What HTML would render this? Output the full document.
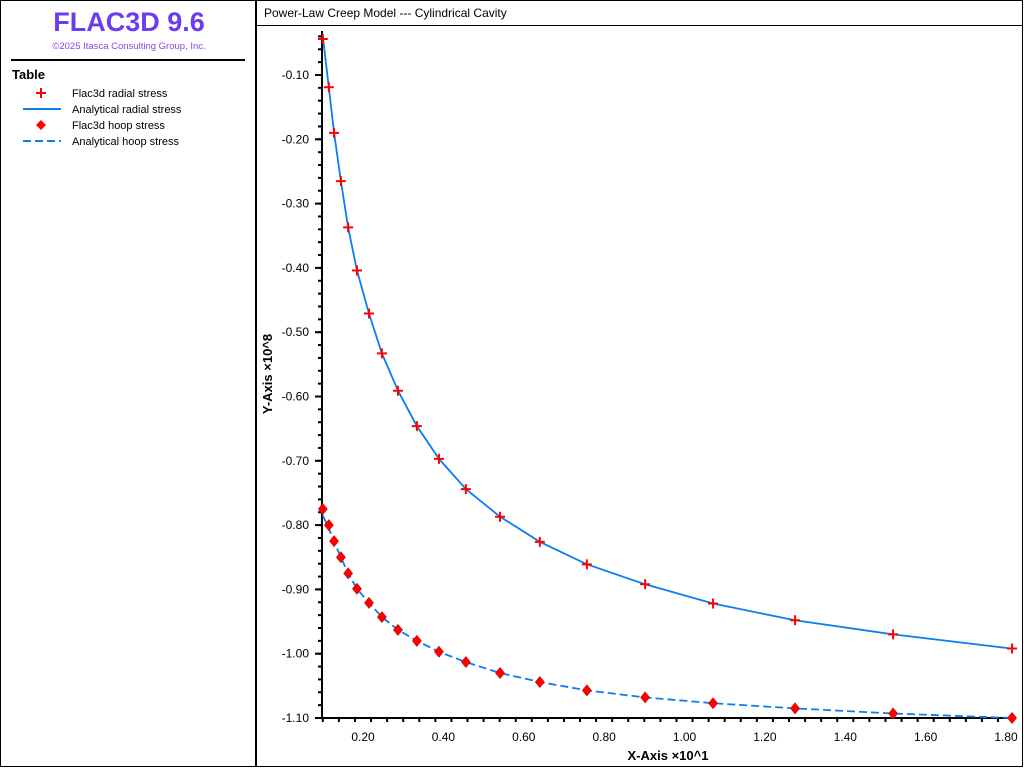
<!DOCTYPE html>
<html><head><meta charset="utf-8"><style>
body{margin:0;width:1024px;height:768px;background:#fff;overflow:hidden;font-family:"Liberation Sans",sans-serif;}
svg text{font-family:"Liberation Sans",sans-serif;}
</style></head><body>
<svg id="chart" width="1024" height="768" xmlns="http://www.w3.org/2000/svg">
<rect x="0.5" y="0.5" width="255" height="766" fill="#fff" stroke="#000"/>
<rect x="256.5" y="0.5" width="766" height="766" fill="#fff" stroke="#000"/>
<line x1="257" y1="25.5" x2="1022" y2="25.5" stroke="#000"/>
<text x="129" y="31" text-anchor="middle" font-size="27" font-weight="bold" fill="#6e3cf0">FLAC3D 9.6</text>
<text x="129" y="49" text-anchor="middle" font-size="9.5" fill="#8a44e8">©2025 Itasca Consulting Group, Inc.</text>
<line x1="11" y1="60" x2="245" y2="60" stroke="#000" stroke-width="2"/>
<text x="12" y="79" font-size="13" font-weight="bold">Table</text>
<g>
<path d="M36 93h10M41 88v10" stroke="#f00" stroke-width="2"/>
<text x="72" y="97" font-size="11">Flac3d radial stress</text></g>
<g>
<line x1="23" y1="109" x2="61" y2="109" stroke="#0a7ef0" stroke-width="2"/>
<text x="72" y="113" font-size="11">Analytical radial stress</text></g>
<g>
<path d="M41 120l5 5-5 5-5-5z" fill="#f00"/>
<text x="72" y="129" font-size="11">Flac3d hoop stress</text></g>
<g>
<line x1="23" y1="141" x2="61" y2="141" stroke="#0a7ef0" stroke-width="2" stroke-dasharray="8,4"/>
<text x="72" y="145" font-size="11">Analytical hoop stress</text></g>
<text x="264" y="17" font-size="12">Power-Law Creep Model --- Cylindrical Cavity</text>
<g id="plot"></g>
</svg>
<script>
const radialX=[0.100,0.115,0.128,0.145,0.163,0.185,0.215,0.247,0.287,0.334,0.389,0.456,0.541,0.640,0.757,0.902,1.071,1.275,1.519,1.815];
const radialY=[-0.044,-0.119,-0.190,-0.265,-0.337,-0.404,-0.471,-0.533,-0.591,-0.646,-0.697,-0.744,-0.787,-0.826,-0.861,-0.892,-0.922,-0.948,-0.970,-0.992];
const hoopX=[0.100,0.115,0.128,0.145,0.163,0.185,0.215,0.247,0.287,0.334,0.389,0.456,0.541,0.640,0.757,0.902,1.071,1.275,1.519,1.815];
const hoopY=[-0.775,-0.800,-0.825,-0.850,-0.875,-0.899,-0.921,-0.943,-0.963,-0.980,-0.997,-1.013,-1.030,-1.044,-1.057,-1.068,-1.077,-1.085,-1.093,-1.100];
const anaRadialY=[-0.040,-0.119,-0.190,-0.265,-0.337,-0.404,-0.471,-0.533,-0.591,-0.646,-0.697,-0.744,-0.787,-0.826,-0.861,-0.892,-0.922,-0.948,-0.970,-0.992];
const anaHoopY=[-0.785,-0.805,-0.826,-0.850,-0.875,-0.899,-0.921,-0.943,-0.963,-0.980,-0.997,-1.013,-1.030,-1.044,-1.057,-1.068,-1.077,-1.085,-1.093,-1.100];
const xTicks=[0.2,0.4,0.6,0.8,1.0,1.2,1.4,1.6,1.8];
const yTicks=[-0.1,-0.2,-0.3,-0.4,-0.5,-0.6,-0.7,-0.8,-0.9,-1.0,-1.1];

const NS='http://www.w3.org/2000/svg';
const g=document.getElementById('plot');
const X=v=>363+(v-0.2)*401.9;
const Y=v=>75+(-0.1-v)*643;
const L=322,B=718,R=1016,T=31;
function mk(t,a){const e=document.createElementNS(NS,t);for(const k in a)e.setAttribute(k,a[k]);g.appendChild(e);return e;}
let e=mk('line',{x1:L,y1:T,x2:L,y2:B+1,stroke:'#000','stroke-width':2});


e=mk('line',{x1:L-1,y1:B,x2:R,y2:B,stroke:'#000','stroke-width':2});


for(let v=0.1;v<=1.82;v+=0.04){const p=X(v);if(p<L)continue;const maj=Math.abs(Math.round(v*5)-v*5)<0.01;mk('line',{x1:p,y1:B,x2:p,y2:B+(maj?6:4),stroke:'#000','stroke-width':2});}
for(let v=-0.04;v>=-1.101;v-=0.02){const p=Y(v);mk('line',{x1:L,y1:p,x2:L-4,y2:p,stroke:'#000','stroke-width':2});}
xTicks.forEach(v=>{const t=mk('text',{x:X(v),y:B+23,'text-anchor':'middle','font-size':12});t.textContent=v.toFixed(2);

});
yTicks.forEach(v=>{mk('line',{x1:L,y1:Y(v),x2:L-7,y2:Y(v),stroke:'#000','stroke-width':2});const t=mk('text',{x:309,y:Y(v)+4,'text-anchor':'end','font-size':12});t.textContent=v.toFixed(2);

});
let t=mk('text',{x:668,y:760,'text-anchor':'middle','font-size':13,'font-weight':'bold'});t.textContent='X-Axis ×10^1';


t=mk('text',{x:0,y:0,'text-anchor':'middle','font-size':13,'font-weight':'bold',transform:'translate(272,374) rotate(-90)'});t.textContent='Y-Axis ×10^8';


function pts(xs,ys){return xs.map((x,i)=>X(x).toFixed(1)+','+Y(ys[i]).toFixed(1)).join(' ');}
e=mk('polyline',{points:pts(radialX,anaRadialY),fill:'none',stroke:'#0a7ef0','stroke-width':1.8});


e=mk('polyline',{points:pts(hoopX,anaHoopY),fill:'none',stroke:'#0a7ef0','stroke-width':1.8,'stroke-dasharray':'8,4'});


radialX.forEach((x,i)=>{const px=X(x),py=Y(radialY[i]);const m=mk('path',{d:`M${px-5} ${py}h10M${px} ${py-5}v10`,stroke:'#f00','stroke-width':2});

});
hoopX.forEach((x,i)=>{const px=X(x),py=Y(hoopY[i]);const m=mk('path',{d:`M${px} ${py-5.5}l4.5 5.5-4.5 5.5-4.5-5.5z`,fill:'#f00',stroke:'#c00','stroke-width':0.6});

});
</script>
</body></html>
